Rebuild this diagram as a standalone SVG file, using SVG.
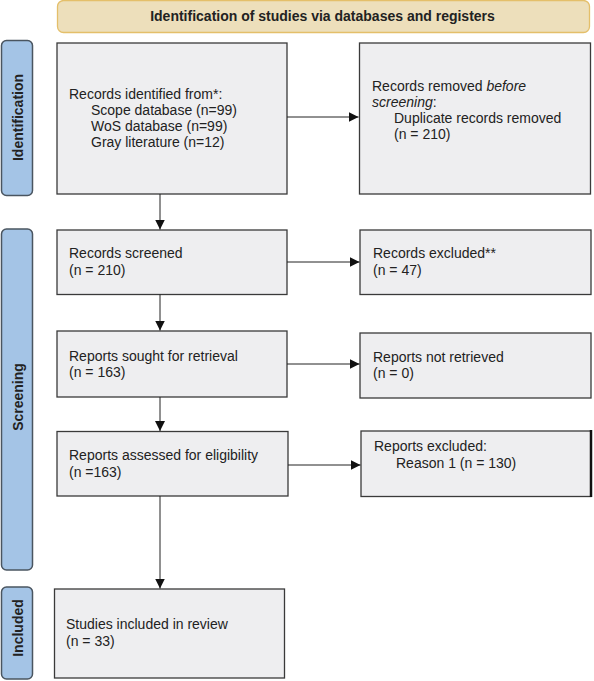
<svg xmlns="http://www.w3.org/2000/svg" width="594" height="681" viewBox="0 0 594 681">
<style>
.box{fill:#eeeef0;stroke:#3a3a3a;stroke-width:1.3}
.side{fill:#a4c4e6;stroke:#4a5560;stroke-width:1.5}
.t{font-family:"Liberation Sans",Arial,sans-serif;font-size:14px;fill:#222}
.b{font-family:"Liberation Sans",Arial,sans-serif;font-size:14px;font-weight:bold;fill:#222}
.c{stroke:#222;stroke-width:1;fill:none;marker-end:url(#ah)}
</style>
<defs>
<marker id="ah" viewBox="0 0 10 10" refX="10" refY="5" markerWidth="10" markerHeight="10" markerUnits="userSpaceOnUse" orient="auto">
<path d="M0,0 L10,5 L0,10 z" fill="#111"/>
</marker>
</defs>
<rect width="594" height="681" fill="#fff"/>
<g id="header">
<rect x="57.5" y="0.5" width="532" height="32" rx="6" fill="#eddfbb" stroke="#e4bf6a" stroke-width="1.3"/>
<text class="b" x="322.5" y="21" text-anchor="middle">Identification of studies via databases and registers</text>
</g>
<g id="side-identification">
<rect class="side" x="1.5" y="40.5" width="31" height="155" rx="5"/>
<text class="b" transform="translate(22.5,117.5) rotate(-90)" text-anchor="middle">Identification</text>
</g>
<g id="side-screening">
<rect class="side" x="1.5" y="229" width="31" height="341" rx="5"/>
<text class="b" transform="translate(22.5,397) rotate(-90)" text-anchor="middle">Screening</text>
</g>
<g id="side-included">
<rect class="side" x="1.5" y="587" width="31" height="92" rx="5"/>
<text class="b" transform="translate(22.5,628) rotate(-90)" text-anchor="middle">Included</text>
</g>
<g id="records-identified">
<rect class="box" x="57" y="43" width="230" height="151"/>
<text class="t" x="69" y="99">Records identified from*:</text>
<text class="t" x="91" y="115">Scope database (n=99)</text>
<text class="t" x="91" y="131">WoS database (n=99)</text>
<text class="t" x="91" y="147">Gray literature (n=12)</text>
</g>
<g id="records-removed">
<rect class="box" x="359.5" y="43" width="231" height="151"/>
<text class="t" x="372" y="91">Records removed <tspan font-style="italic">before</tspan></text>
<text class="t" x="372" y="107"><tspan font-style="italic">screening</tspan>:</text>
<text class="t" x="394" y="123">Duplicate records removed</text>
<text class="t" x="394" y="139">(n = 210)</text>
</g>
<g id="records-screened">
<rect class="box" x="57" y="230" width="230" height="64.5"/>
<text class="t" x="69" y="258">Records screened</text>
<text class="t" x="69" y="275">(n = 210)</text>
</g>
<g id="records-excluded">
<rect class="box" x="360" y="230" width="231" height="64.5"/>
<text class="t" x="373" y="258">Records excluded**</text>
<text class="t" x="373" y="275">(n = 47)</text>
</g>
<g id="reports-sought">
<rect class="box" x="57" y="331" width="230" height="66"/>
<text class="t" x="69" y="361">Reports sought for retrieval</text>
<text class="t" x="69" y="377">(n = 163)</text>
</g>
<g id="reports-not-retrieved">
<rect class="box" x="360" y="333" width="231" height="65"/>
<text class="t" x="373" y="362">Reports not retrieved</text>
<text class="t" x="373" y="378">(n = 0)</text>
</g>
<g id="reports-assessed">
<rect class="box" x="57" y="431.5" width="231" height="64.5"/>
<text class="t" x="69" y="460">Reports assessed for eligibility</text>
<text class="t" x="69" y="477">(n =163)</text>
</g>
<g id="reports-excluded">
<rect class="box" x="361" y="431" width="230" height="65.5"/>
<line x1="591" y1="430" x2="591" y2="497" stroke="#111" stroke-width="2.5"/>
<text class="t" x="374" y="451">Reports excluded:</text>
<text class="t" x="396" y="468">Reason 1 (n = 130)</text>
</g>
<g id="studies-included">
<rect class="box" x="54.5" y="589" width="230" height="89"/>
<text class="t" x="66" y="629">Studies included in review</text>
<text class="t" x="66" y="646">(n = 33)</text>
</g>
<g id="connectors">
<path class="c" d="M287,117 H358.5"/>
<path class="c" d="M160,194 V229.5"/>
<path class="c" d="M287,262 H359.5"/>
<path class="c" d="M160,294.5 V330.5"/>
<path class="c" d="M287,364 H359.5"/>
<path class="c" d="M160,397 V431"/>
<path class="c" d="M288,465 H360.5"/>
<path class="c" d="M160,496 V588.5"/>
</g>
</svg>
